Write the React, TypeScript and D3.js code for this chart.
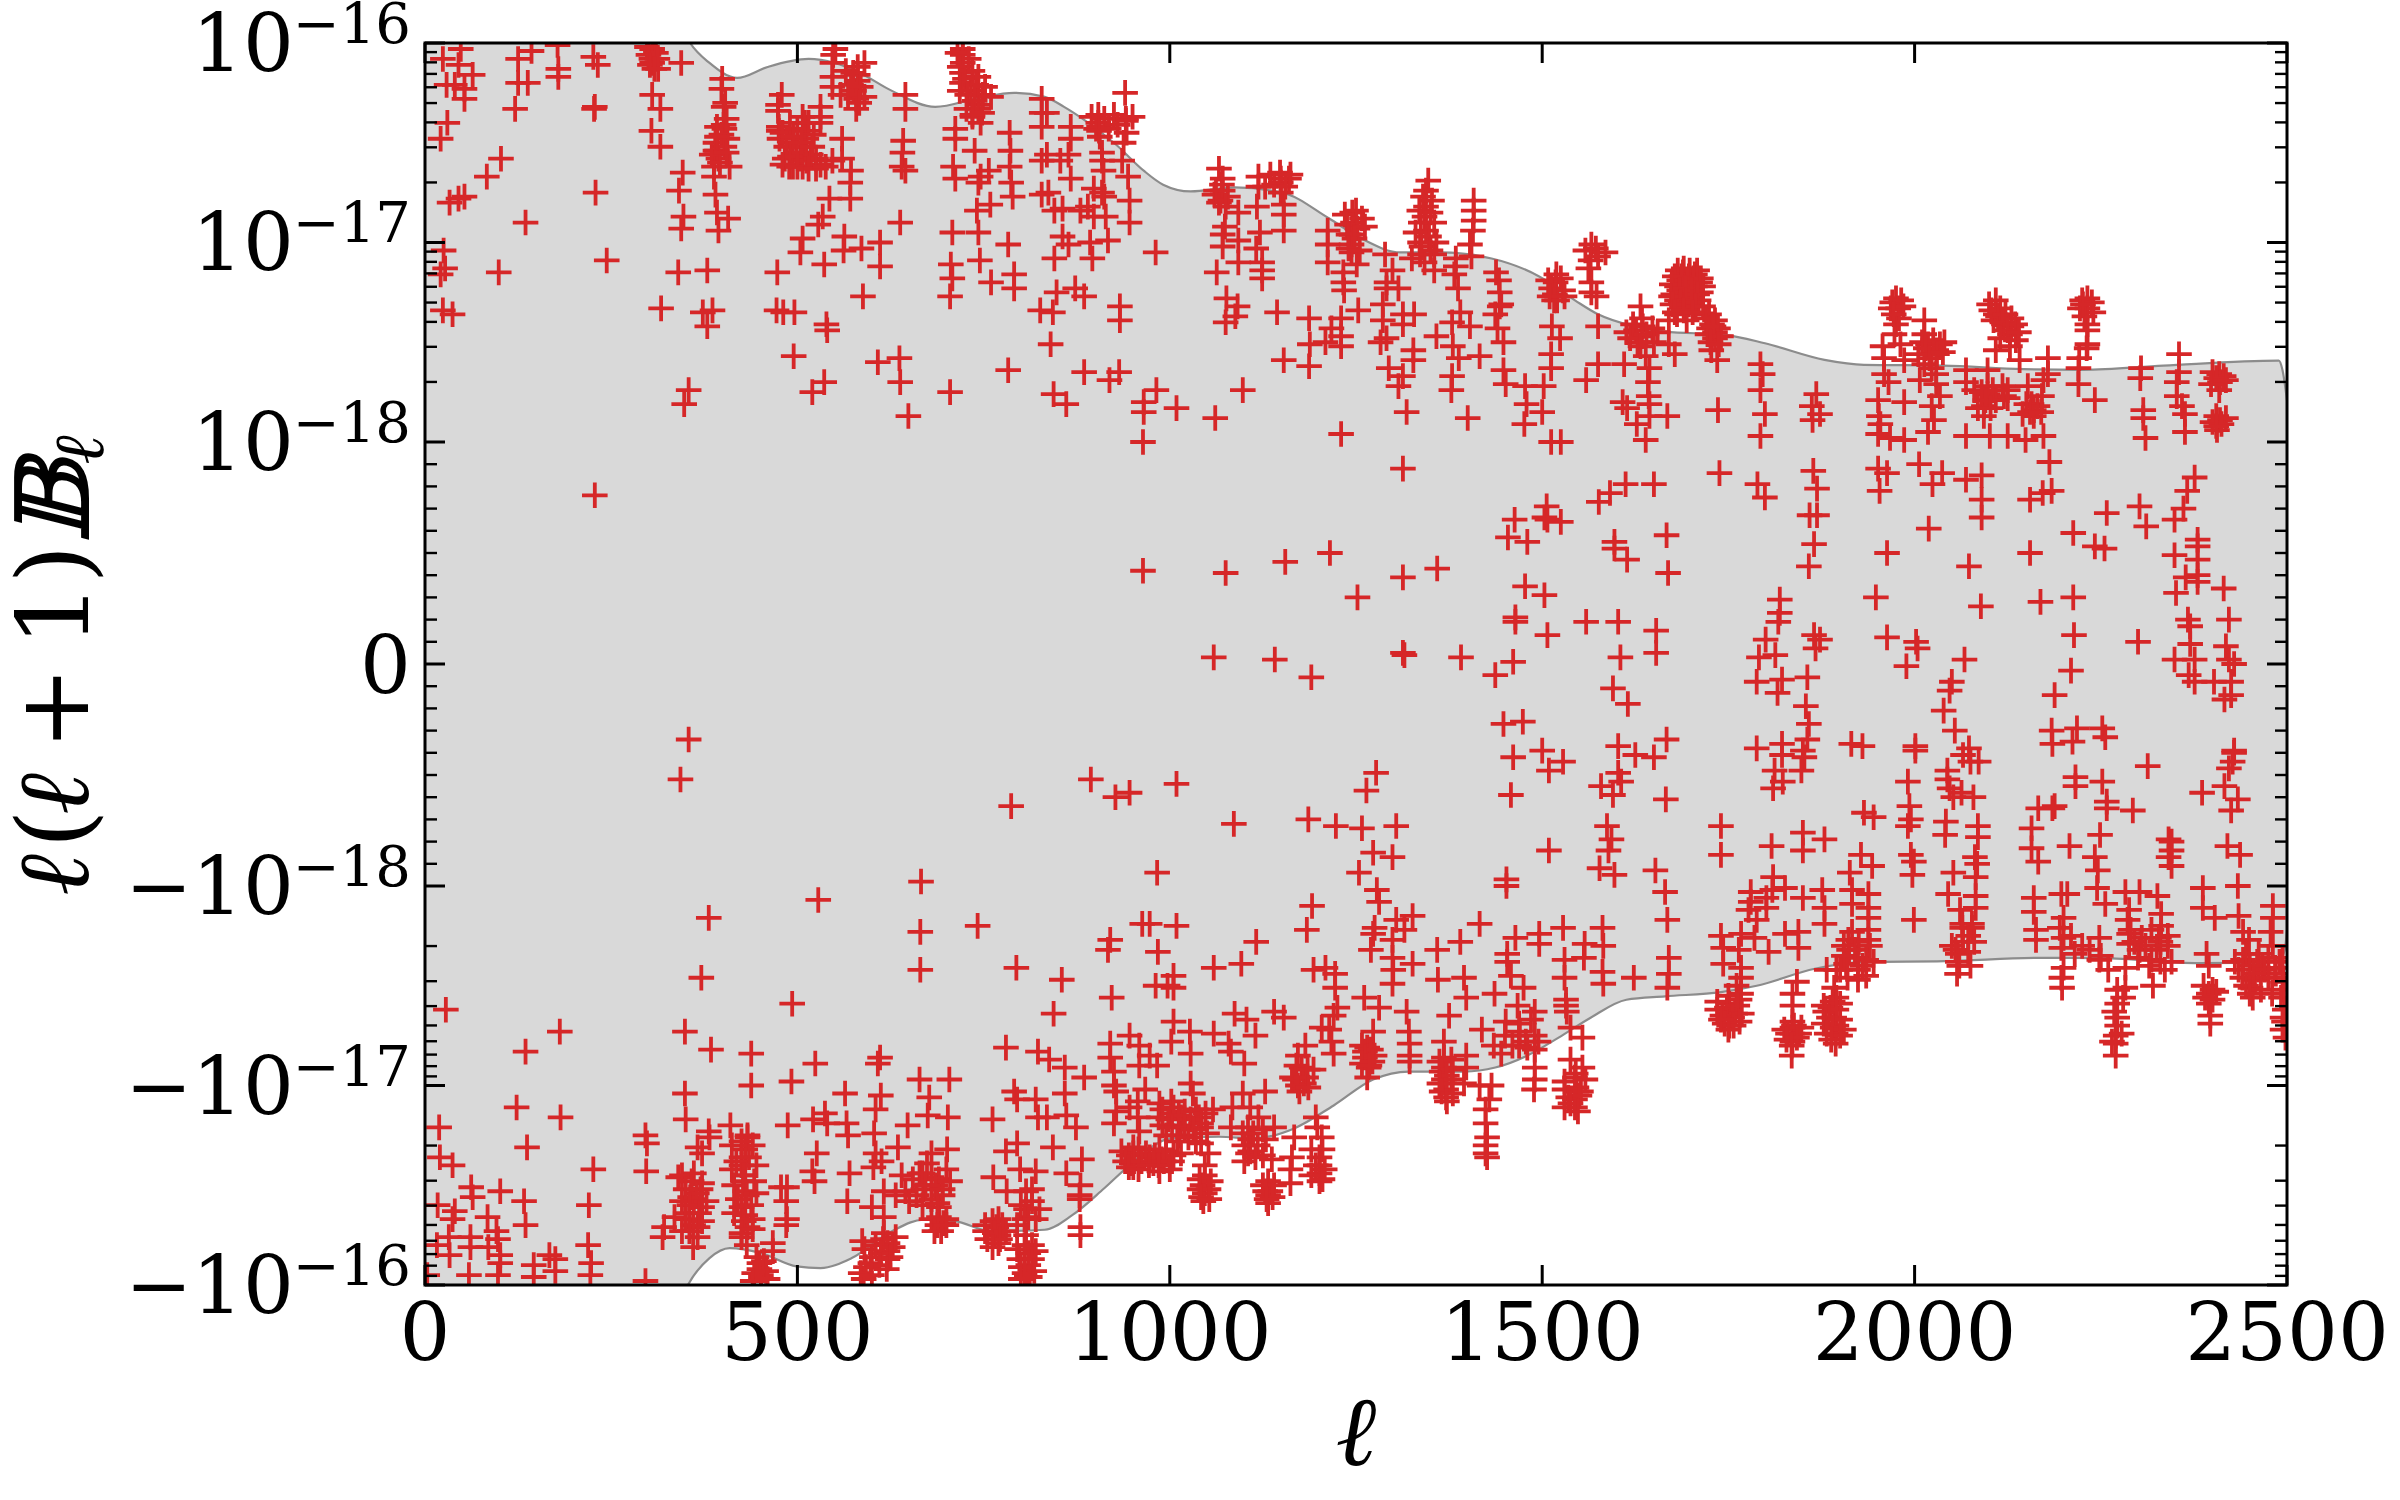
import { useEffect, useRef } from 'react';
import * as d3 from 'd3';

// points above the linear region: [ell, e] meaning +10^-e
const upperPoints = [
[24,16.08],[48,16.03],[45,16.11],[64,16.16],[29,16.21],[40,16.21],[53,16.28],[53,16.23],[30,16.40],[21,16.48],[102,16.58],[83,16.67],[53,16.77],[45,16.78],[33,16.80],[229,16.75],[135,16.90],[244,17.09],[99,17.15],[25,17.04],[27,17.13],[21,17.16],[24,17.34],[37,17.36],
[125,16.08],[143,16.04],[178,16.01],[179,16.13],[179,16.17],[125,16.20],[138,16.20],[121,16.33],[226,16.07],[232,16.11],[228,16.32],[227,16.33],[305,16.03],[304,16.08],[305,16.10],[313,16.13],[344,16.10],[305,16.26],[316,16.33],[304,16.44],[316,16.52],[346,16.65],[341,16.74],[347,16.87],[344,16.93],[340,17.15],[379,17.14],[317,17.33],[373,17.35],[386,17.34],[379,17.42],[354,17.74],[348,17.81],
[399,16.18],[398,16.23],[403,16.30],[401,16.32],[401,16.41],[402,16.43],[406,16.48],[392,16.54],[390,16.54],[394,16.58],[409,16.62],[388,16.62],[388,16.67],[390,16.76],[392,16.85],[407,16.88],[394,16.94],
[479,16.26],[474,16.31],[474,16.34],[475,16.42],[475,16.44],[476,16.48],[483,16.58],[489,16.62],[507,16.37],[510,16.40],[531,16.32],[531,16.37],[531,16.40],[512,16.44],[512,16.48],[510,16.52],[504,16.58],[507,16.62],[531,16.61],[560,16.48],[560,16.58],[572,16.64],[571,16.70],[543,16.78],[571,16.78],[534,16.87],[528,16.91],[507,16.98],[504,17.05],[536,17.11],[563,16.97],[562,17.04],[586,17.03],[611,17.00],[611,17.12],[473,17.15],[588,17.27],[472,17.34],[481,17.35],[496,17.35],[539,17.41],[540,17.44],[495,17.57],[608,17.60],[637,17.58],[638,17.70],[536,17.70],[520,17.75],[649,17.87],[705,17.75],
[494,16.50],[499,16.55],[518,16.56],[494,16.62],[547,16.59],
[551,16.03],[548,16.06],[547,16.10],[547,16.17],[547,16.22],[558,16.26],[581,16.12],[581,16.16],[581,16.19],[576,16.24],[579,16.28],[579,16.33],
[645,16.26],[645,16.33],[642,16.49],[641,16.55],[640,16.62],[645,16.64],[638,16.90],
[722,16.03],[722,16.06],[722,16.10],[721,16.15],[721,16.20],[733,16.24],[743,16.17],[749,16.26],[743,16.31],[743,16.33],[735,16.37],[746,16.40],[712,16.43],[712,16.48],[738,16.54],[709,16.62],[712,16.68],[746,16.67],[757,16.64],[743,16.70],[741,16.84],[759,16.81],[708,16.95],[743,16.95],[783,17.01],[706,17.11],[708,17.18],[745,17.09],[760,17.20],[791,17.16],[791,17.23],[705,17.27],[826,17.34],[783,17.64],
[785,16.45],[786,16.54],[785,16.62],[787,16.70],[789,16.77],[828,16.76],[828,16.28],[828,16.35],[828,16.42],[828,16.59],
[835,16.35],[867,16.42],[867,16.48],[835,16.56],[864,16.56],[853,16.59],[867,16.68],[898,16.73],[909,16.75],[912,16.77],[890,16.82],[837,16.75],[845,16.84],[856,16.83],[880,16.84],[898,16.87],[856,16.97],[864,17.01],[893,17.00],[896,17.08],[845,17.08],[914,16.87],[917,16.99],[946,16.79],[946,16.90],[848,17.25],[873,17.23],[885,17.27],[843,17.35],[840,17.51],[981,17.05],[933,17.32],[933,17.39],[885,17.65],[932,17.65],[919,17.69],[844,17.76],[861,17.81],[982,17.74],[965,17.80],[965,17.85],[1009,17.83],[1061,17.88],[1098,17.74],[964,18.00],[1230,17.96],
[904,16.36],[904,16.40],[901,16.43],[906,16.47],[940,16.25],[941,16.38],[941,16.39],[942,16.45],[938,16.50],[909,16.55],[909,16.59],[936,16.59],[911,16.64],[944,16.67],
[1066,16.63],[1071,16.68],[1071,16.74],[1066,16.80],[1068,16.79],[1092,16.85],[1074,16.92],[1071,16.96],[1071,17.02],[1092,16.99],[1119,16.67],[1119,16.72],[1117,16.82],[1149,16.68],[1149,16.70],[1149,16.75],[1153,16.81],[1153,16.86],[1153,16.94],[1121,16.95],[1116,17.03],[1124,17.10],[1124,17.14],[1124,17.18],[1092,17.10],[1063,17.15],[1076,17.28],[1091,17.32],[1088,17.37],[1075,17.40],[1144,17.35],[1187,17.38],[1153,17.59],[1187,17.62],
[1245,16.85],[1246,16.90],[1244,16.96],[1244,17.01],[1244,17.05],[1212,16.94],[1212,17.01],[1212,17.10],[1251,17.11],[1233,17.15],[1233,17.20],[1234,17.24],[1253,17.34],[1230,17.38],[1217,17.43],[1230,17.47],[1188,17.51],[1230,17.52],[1209,17.50],
[1289,17.06],[1299,17.14],[1291,17.20],[1291,17.23],[1307,17.23],[1286,17.31],[1286,17.39],[1313,17.36],[1328,17.36],[1313,17.41],[1283,17.50],[1291,17.48],[1327,17.54],[1327,17.59],[1294,17.63],[1313,17.67],[1307,17.72],[1318,17.85],[1400,17.88],
[1347,16.69],[1344,16.74],[1344,16.82],[1342,16.87],[1344,16.94],[1336,17.00],[1336,17.06],[1342,17.10],[1355,17.14],[1355,17.06],
[1384,17.08],[1384,17.12],[1382,17.16],[1387,17.23],[1390,17.35],[1379,17.40],[1403,17.42],[1358,17.47],[1380,17.52],[1388,17.58],[1416,17.57],[1379,17.67],[1378,17.74],
[1408,16.79],[1408,16.84],[1408,16.89],[1407,16.94],[1403,17.01],[1405,17.07],
[1438,17.15],[1442,17.19],[1443,17.25],[1445,17.31],[1443,17.32],[1437,17.36],[1440,17.43],[1448,17.50],[1448,17.64],[1451,17.71],[1477,17.72],[1502,17.72],[1479,17.81],[1500,17.85],[1476,17.91],
[1519,17.16],[1518,17.20],[1517,17.26],[1520,17.29],[1513,17.42],[1524,17.48],[1512,17.56],[1512,17.63],[1512,18.00],[1525,18.00],
[1608,17.80],[1614,17.83],[1627,17.91],[1639,17.99],[1644,17.81],[1644,17.87],
[1566,17.01],[1565,17.09],[1562,17.13],[1566,17.20],[1566,17.25],[1573,17.27],[1575,17.42],[1575,17.61],[1559,17.69],
[1632,17.32],[1634,17.38],[1626,17.44],[1613,17.45],[1634,17.47],[1628,17.50],[1639,17.57],[1610,17.61],[1644,17.63],[1642,17.70],[1643,17.77],
[1689,17.15],[1705,17.16],[1684,17.19],[1713,17.18],[1681,17.22],[1705,17.22],[1676,17.26],[1713,17.25],[1681,17.29],[1697,17.31],[1710,17.29],[1681,17.36],[1670,17.39],[1694,17.39],[1724,17.36],[1732,17.39],[1724,17.43],[1732,17.45],[1732,17.48],[1727,17.54],[1735,17.59],[1670,17.51],[1678,17.56],[1689,17.21],[1697,17.17],[1689,17.27],[1702,17.26],
[1793,17.61],[1796,17.66],[1793,17.74],[1799,17.86],[1793,17.97],[1736,17.84],[1668,17.87],[1868,17.76],[1862,17.82],[1873,17.86],[1863,17.89],
[1975,17.28],[1978,17.33],[1979,17.38],[1975,17.41],[2013,17.39],[2013,17.46],[1973,17.46],[1957,17.52],[1959,17.58],[1959,17.66],[1965,17.70],[1981,17.51],[1986,17.59],[2018,17.51],[2034,17.51],[2029,17.54],[2013,17.61],[2023,17.63],[2029,17.66],[2007,17.69],[2029,17.71],[2034,17.77],[1951,17.79],[1986,17.80],[1952,17.87],[1954,17.91],[2023,17.82],[2026,17.89],[2018,17.95],[1951,17.96],[1967,17.98],[1986,17.99],
[2069,17.64],[2069,17.70],[2098,17.64],[2109,17.29],[2109,17.36],[2106,17.39],[2130,17.42],[2128,17.46],[2128,17.52],[2141,17.59],[2098,17.76],[2120,17.77],[2093,17.82],[2093,17.87],[2152,17.72],[2125,17.78],[2160,17.84],[2160,17.87],[2179,17.58],[2179,17.66],[2173,17.69],[2171,17.77],[2220,17.63],[2220,17.71],[2242,17.79],[2069,17.97],[2101,17.97],[2125,17.97],[2149,17.99],[2173,17.97],[2120,17.41],[2136,17.49],[2109,17.54],[2098,17.72],[2109,17.79],[2157,17.81],
[2232,17.28],[2232,17.33],[2232,17.41],[2232,17.44],[2232,17.51],[2231,17.53],[2221,17.58],
[2304,17.63],[2303,17.68],[2307,17.84],[2307,17.88],[2310,17.98],[2355,17.56],[2355,17.65],[2352,17.70],[2352,17.77],[2359,17.82],[2363,17.86],[2363,17.95],[2409,17.66],[2410,17.70],[2409,17.74],[2410,17.89],[2406,17.94],
];

// extra upper points read from the solid clumps
const upperClumps = [
[715,16.05],[730,16.08],[718,16.12],[735,16.14],[725,16.18],[740,16.21],[728,16.26],[752,16.22],[738,16.29],[718,16.24],[748,16.35],[727,16.33],[760,16.27],[735,16.36],
[392,16.42],[405,16.38],[398,16.46],[390,16.50],[402,16.52],[385,16.56],[396,16.60],[405,16.55],[392,16.47],
[480,16.45],[490,16.40],[500,16.43],[515,16.40],[522,16.46],[485,16.52],[495,16.47],[505,16.50],[520,16.52],[490,16.57],[512,16.59],[525,16.58],[480,16.61],[500,16.62],[515,16.63],[525,16.63],[538,16.62],
[565,16.14],[575,16.15],[590,16.10],[572,16.21],[585,16.22],[590,16.27],[568,16.26],[583,16.30],
[298,16.02],[310,16.05],[300,16.06],[312,16.08],[302,16.11],[308,16.13],
[895,16.37],[912,16.38],[925,16.36],[905,16.42],[918,16.43],[930,16.41],[950,16.37],[905,16.44],
[1060,16.76],[1078,16.77],[1070,16.71],[1062,16.74],[1075,16.82],
[1135,16.66],[1148,16.65],[1160,16.68],[1140,16.71],[1155,16.72],[1128,16.72],[1162,16.66],
[1235,16.86],[1250,16.84],[1258,16.88],[1238,16.91],[1252,16.93],[1240,16.96],[1262,16.92],[1248,16.98],[1240,17.03],[1255,17.04],
[1340,16.77],[1352,16.79],[1335,16.84],[1350,16.85],[1337,16.90],[1355,16.90],[1330,16.95],[1348,16.97],[1338,17.02],[1358,17.00],[1325,17.08],[1350,17.04],
[1508,17.19],[1525,17.18],[1512,17.23],[1528,17.24],[1516,17.29],[1510,17.27],[1530,17.27],
[1558,17.04],[1572,17.03],[1585,17.05],[1575,17.07],
[1622,17.41],[1635,17.42],[1648,17.43],[1655,17.45],[1640,17.46],[1618,17.48],[1650,17.50],[1632,17.52],
[1682,17.14],[1690,17.13],[1698,17.14],[1708,17.14],[1678,17.17],[1687,17.17],[1695,17.19],[1703,17.18],[1712,17.20],[1716,17.22],[1674,17.21],[1684,17.24],[1692,17.23],[1700,17.24],[1708,17.26],[1673,17.27],[1686,17.30],[1693,17.29],[1701,17.30],[1706,17.32],[1675,17.31],[1716,17.32],[1678,17.35],[1690,17.34],[1702,17.35],
[1720,17.38],[1728,17.41],[1736,17.43],[1722,17.46],[1730,17.42],[1740,17.47],[1726,17.50],[1737,17.51],
[1970,17.30],[1982,17.29],[1968,17.33],[1985,17.32],[1972,17.36],
[2010,17.50],[2025,17.49],[2040,17.50],[2015,17.53],[2030,17.56],[2005,17.56],[2020,17.58],[2038,17.55],
[2100,17.31],[2115,17.33],[2103,17.34],[2112,17.37],[2122,17.36],[2130,17.38],[2118,17.40],[2135,17.41],[2125,17.44],[2140,17.45],[2115,17.48],
[2080,17.74],[2090,17.75],[2105,17.74],[2118,17.72],[2095,17.79],[2125,17.74],[2085,17.83],[2102,17.83],
[2150,17.81],[2165,17.82],[2155,17.85],[2145,17.86],[2170,17.85],
[2225,17.29],[2238,17.30],[2222,17.33],[2240,17.35],[2228,17.37],[2226,17.31],
[2400,17.65],[2415,17.67],[2405,17.68],[2418,17.69],[2398,17.71],
[2405,17.87],[2418,17.88],[2400,17.90],[2412,17.91],[2405,17.92],
];

// points below the linear region: [ell, e] meaning -10^-e
const lowerPoints = [
[528,17.93],[381,17.84],[665,17.77],[665,17.58],[742,17.80],[794,17.59],[371,17.54],[493,17.41],[28,17.38],[181,17.27],[135,17.17],[349,17.27],[384,17.18],[438,17.16],[524,17.11],[611,17.14],[608,17.11],[780,17.19],[823,17.17],[438,17.00],[492,17.02],[664,17.03],[704,17.03],[564,16.96],[612,16.95],[349,16.96],[791,16.97],[820,16.93],[605,16.88],[795,16.93],[123,16.89],[182,16.84],[19,16.79],[350,16.83],[537,16.86],[521,16.83],[566,16.81],[540,16.81],[568,16.75],[487,16.80],[762,16.83],[410,16.80],[381,16.77],[433,16.75],[296,16.75],[298,16.71],[603,16.76],[648,16.80],[675,16.85],[677,16.94],[702,16.84],[137,16.69],[20,16.64],[37,16.60],[635,16.69],[526,16.66],[605,16.66],[613,16.62],[701,16.68],[795,16.71],[780,16.67],[823,16.84],
[226,16.58],[297,16.57],[570,16.56],[602,16.59],[520,16.57],[523,16.52],[799,16.58],[820,16.57],[763,16.54],[62,16.49],[64,16.44],[101,16.47],[133,16.42],[17,16.40],[220,16.40],[40,16.37],[84,16.34],[135,16.30],[37,16.33],[567,16.42],[781,16.47],[815,16.48],[478,16.49],
[372,16.66],[366,16.69],[382,16.74],[340,16.54],[361,16.56],[372,16.51],[356,16.44],[361,16.43],[372,16.39],[350,16.36],[335,16.34],[366,16.29],[321,16.29],[319,16.24],[360,16.19],[366,16.24],
[433,16.74],[430,16.68],[425,16.64],[425,16.60],[430,16.55],[427,16.52],[430,16.47],[425,16.39],[430,16.35],[433,16.29],[425,16.24],[467,16.21],[467,16.17],[449,16.11],[449,16.08],[451,16.05],[451,16.03],
[486,16.49],[485,16.42],[486,16.33],[485,16.30],
[616,16.47],[632,16.45],[600,16.39],[616,16.34],[616,16.26],[587,16.22],[621,16.21],[621,16.17],[621,16.13],[592,16.09],[589,16.03],
[680,16.66],[674,16.61],[664,16.56],[680,16.54],[690,16.53],[669,16.48],[680,16.43],[690,16.39],[690,16.34],[696,16.31],[693,16.27],
[770,16.33],[767,16.29],[770,16.25],[770,16.21],[807,16.47],[807,16.38],[810,16.34],[807,16.25],[815,16.20],[810,16.16],[810,16.10],[808,16.04],
[32,16.24],[61,16.24],[16,16.20],[61,16.19],[96,16.27],[98,16.23],[85,16.19],[101,16.15],[33,16.15],[101,16.11],[98,16.05],[146,16.10],[146,16.04],[167,16.15],[175,16.13],[175,16.07],[219,16.20],[223,16.11],[222,16.05],[59,16.05],[296,16.02],[3,16.05],
[1452,18.00],[1278,17.98],[1281,17.92],[1191,17.90],[1184,17.78],[1416,17.81],[1275,17.79],[1273,17.76],[1270,17.68],[1304,17.83],[1326,17.85],[1315,17.78],[1299,17.73],[973,17.81],[1009,17.80],[963,17.81],[920,17.73],[917,17.68],[984,17.67],[1116,17.72],[1059,17.59],[1096,17.61],[855,17.53],[922,17.44],[844,17.36],
[1359,17.68],[1390,17.72],[1464,17.74],[1496,17.76],[1496,17.71],[1528,17.79],[1557,17.71],[1556,17.64],[1582,17.70],[1581,17.79],[1530,17.63],[1530,17.54],[1581,17.57],[1582,17.51],[1623,17.54],[1326,17.61],[1299,17.64],[1300,17.58],[1299,17.51],[1360,17.53],[1395,17.54],[1398,17.44],[1436,17.46],[1453,17.66],[1453,17.62],[1458,17.55],[1475,17.49],
[1005,17.55],[1005,17.49],[981,17.50],[997,17.50],[1193,17.58],[1222,17.56],[1222,17.49],[1209,17.59],[1261,17.44],[1281,17.39],[1318,17.37],[1375,17.35],[1532,17.43],[1532,17.40],[1533,17.37],[1467,17.40],[1490,17.37],[1485,17.33],[1451,17.32],[1225,17.39],[1220,17.35],[1204,17.29],
[1087,17.36],[1103,17.33],[1140,17.37],[1153,17.34],[1005,17.32],[1027,17.27],[1059,17.26],[946,17.25],[920,17.21],[959,17.20],[1002,17.22],[1028,17.16],[1079,17.21],[1082,17.17],[1100,17.11],[1115,17.25],
[838,17.13],[859,17.09],[885,17.04],[973,17.15],[983,17.10],[959,17.10],[920,17.14],[925,17.07],[925,17.00],[928,16.97],[859,16.96],
[1214,17.28],[1217,17.22],[1220,17.16],[1182,17.20],[1172,17.15],[1177,17.09],[1193,17.08],[1164,17.04],[1180,17.01],[1174,16.97],[1098,16.96],[1128,16.97],[1028,17.01],[1031,16.96],[967,16.98],
[1273,17.27],[1265,17.19],[1262,17.17],[1267,17.09],[1265,17.04],[1321,17.27],[1322,17.21],[1322,17.15],[1322,17.12],
[1368,17.22],[1398,17.15],[1368,17.14],[1368,17.09],[1398,17.09],[1368,17.03],[1395,17.01],[1371,16.98],[1371,16.94],[1419,17.28],[1435,17.20],
[1469,17.25],[1469,17.20],[1490,17.25],[1490,17.18],[1469,17.31],[1490,17.09],[1490,17.03],[1489,16.98],[1538,17.29],[1554,17.24],[1538,17.13],[1554,17.09],[1544,17.04],[1546,16.99],[1546,16.97],[1544,16.93],[1544,16.89],
[1432,17.00],[1416,17.00],[1429,16.93],[1424,16.88],[1424,16.81],[1426,16.74],[1424,16.70],[1424,16.66],[1426,16.64],
[1196,16.84],[1198,16.79],[1204,16.74],[1201,16.64],[1201,16.60],[1201,16.56],[1201,16.52],[1164,16.64],[1162,16.58],[1162,16.51],[1167,16.74],
[1084,16.89],[1108,16.89],[1082,16.79],[1119,16.84],[1140,16.79],[1105,16.79],[1108,16.73],[1108,16.67],[1105,16.66],[1129,16.73],[1137,16.63],[1132,16.52],[1135,16.47],[1132,16.45],[1132,16.41],
[1058,16.88],[946,16.89],[957,16.92],[986,16.91],[1002,16.92],[957,16.84],[959,16.77],[928,16.87],[925,16.81],[1002,16.86],[1015,16.84],[1039,16.84],[1015,16.80],[1042,16.79],[1013,16.75],[1042,16.71],[1052,16.66],[1047,16.60],[1047,16.55],[1044,16.50],[1047,16.46],[1045,16.42],[1015,16.66],[986,16.68],[951,16.66],[949,16.61],[973,16.64],[989,16.63],[951,16.69],[986,16.57],[951,16.59],
[882,16.63],[861,16.56],[880,16.50],[879,16.45],[879,16.43],[880,16.29],[880,16.25],[843,16.69],[874,16.79],[861,16.85],[835,16.84],
[1665,17.97],[1668,17.83],[1670,17.56],[1668,17.49],[1670,17.64],
[1999,17.83],[2045,17.96],[2082,17.95],[2082,17.89],[2061,17.88],[2077,17.81],[2064,17.81],[2064,17.79],[2077,17.79],[2072,17.75],[2058,17.66],[2058,17.62],[2057,17.56],
[1780,17.97],[1780,17.92],[1809,17.98],[1826,17.99],[1801,17.94],[1801,17.89],[1850,17.94],[1876,17.98],[1879,17.89],[1879,17.81],[1916,17.98],[1938,17.96],[1916,17.91],[1938,17.89],[1938,17.84],[1916,17.77],[1938,17.78],[1911,17.73],[1938,17.73],[1912,17.68],[1924,17.64],[1908,17.61],[1924,17.58],[1924,17.53],[1844,17.77],[1844,17.69],[1826,17.76],[1804,17.67],[1740,17.75],[1743,17.69],[1767,17.76],[1788,17.83],[1785,17.74],[1777,17.88],[1764,17.68],[1743,17.61],[1767,17.59],[1767,17.54],[1761,17.50],[1767,17.46],[1751,17.41],[1751,17.36],[1751,17.30],[1759,17.36],
[1842,17.52],[1836,17.46],[1836,17.40],[1836,17.32],[1836,17.29],[1836,17.26],[1836,17.22],[1835,17.15],[1882,17.58],[1895,17.58],[1892,17.49],[1895,17.44],[1887,17.39],[1892,17.34],[1895,17.30],[1894,17.26],[1894,17.21],
[2160,17.94],[2160,17.87],[2163,17.78],[2163,17.73],[2197,17.96],[2205,17.96],[2200,17.84],[2195,17.79],[2200,17.74],[2197,17.69],[2200,17.59],[2197,17.54],[2198,17.49],[2245,17.99],[2256,17.91],[2248,17.74],[2248,17.63],[2283,17.97],[2302,17.97],[2288,17.88],[2286,17.83],[2288,17.76],[2302,17.68],[2288,17.71],[2326,17.95],[2331,17.86],[2331,17.80],[2328,17.74],[2318,17.63],[2336,17.58],[2283,17.59],[2320,17.50],[2283,17.49],[2272,17.48],[2272,17.41],[2272,17.34],[2270,17.25],[2270,17.21],[2270,17.15],
[2387,17.99],[2387,17.89],[2403,17.84],[2392,17.66],[2395,17.60],[2395,17.41],[2397,17.35],[2397,17.31],[2434,18.00],[2435,17.85],[2481,17.90],[2481,17.84],[2478,17.77],[2441,17.77],[2449,17.73],[2481,17.70],[2441,17.63],[2462,17.66],[2462,17.58],[2484,17.59],[2454,17.44],[2494,17.54],[2492,17.44],[2494,17.34],[2494,17.28],[2451,17.49],[2494,17.64],[2457,17.53],[2467,17.59],
];

// extra lower points read from the solid clumps
const lowerClumps = [
[345,16.55],[358,16.52],[370,16.48],[350,16.48],[365,16.46],[345,16.42],[355,16.40],[378,16.42],[350,16.33],[360,16.30],[345,16.27],[372,16.32],[355,16.27],[368,16.36],
[412,16.70],[425,16.72],[440,16.70],[418,16.62],[435,16.64],[445,16.60],[412,16.58],[428,16.55],[442,16.52],[415,16.50],[432,16.45],[445,16.46],[420,16.43],[438,16.40],[415,16.36],[428,16.32],[440,16.33],[425,16.26],[440,16.28],[432,16.20],[445,16.14],[455,16.12],[442,16.06],[458,16.07],[440,16.02],[460,16.03],
[590,16.18],[605,16.20],[615,16.23],[628,16.19],[600,16.14],[612,16.16],[625,16.14],[598,16.11],[610,16.10],[620,16.08],[585,16.06],[600,16.05],[632,16.24],
[640,16.55],[655,16.53],[668,16.56],[685,16.50],[695,16.48],[645,16.47],[660,16.45],[672,16.50],[695,16.45],[650,16.42],[668,16.40],[688,16.41],[700,16.58],[705,16.52],
[680,16.33],[688,16.30],[700,16.33],[684,16.27],[700,16.30],
[752,16.30],[762,16.32],[775,16.30],[752,16.27],[765,16.26],[780,16.27],[755,16.23],[772,16.23],[762,16.19],
[795,16.18],[805,16.20],[820,16.17],[798,16.13],[815,16.13],[800,16.09],[818,16.07],[805,16.06],[812,16.04],[800,16.03],
[800,16.40],[815,16.42],[825,16.38],[805,16.33],[820,16.33],[795,16.30],
[935,16.67],[945,16.65],[958,16.68],[968,16.66],[980,16.65],[995,16.67],[1005,16.65],[940,16.62],[952,16.62],[962,16.62],[978,16.61],[992,16.62],[1003,16.62],[945,16.59],[958,16.58],[972,16.60],[985,16.60],[1000,16.58],
[990,16.88],[1005,16.89],[1020,16.87],[1035,16.88],[1048,16.86],[985,16.84],[998,16.83],[1012,16.85],[1028,16.83],[1042,16.81],[990,16.80],[1003,16.79],[1020,16.79],[1032,16.78],[1050,16.76],[995,16.75],[1010,16.72],[1025,16.74],[1035,16.72],
[1098,16.76],[1112,16.76],[1125,16.78],[1100,16.70],[1118,16.70],[1125,16.65],[1100,16.62],[1115,16.64],
[1125,16.50],[1140,16.50],[1128,16.47],[1138,16.44],[1130,16.43],
[1040,16.53],[1055,16.52],[1040,16.48],[1052,16.48],[1042,16.44],[1053,16.43],
[1190,16.68],[1205,16.68],[1196,16.60],[1208,16.58],[1190,16.55],[1205,16.53],
[1258,17.20],[1270,17.18],[1262,17.14],[1275,17.15],[1258,17.11],[1272,17.12],[1268,17.10],
[1170,17.10],[1185,17.08],[1168,17.03],[1183,17.04],[1172,17.00],[1186,16.99],
[1362,17.12],[1378,17.13],[1365,17.07],[1380,17.08],[1372,17.05],[1362,17.01],[1378,17.03],[1365,16.97],[1380,16.96],[1372,16.92],
[1530,17.02],[1545,17.06],[1558,17.03],[1530,16.98],[1552,16.97],[1535,16.94],[1550,16.95],[1538,16.91],[1530,16.89],[1548,16.87],
[1445,17.16],[1460,17.20],[1478,17.22],[1450,17.25],[1470,17.27],[1480,17.19],[1495,17.22],
[1735,17.42],[1750,17.45],[1765,17.43],[1735,17.38],[1748,17.39],[1762,17.40],[1742,17.35],[1755,17.34],[1768,17.36],[1745,17.31],[1757,17.30],[1765,17.32],[1750,17.28],[1740,17.33],
[1825,17.28],[1838,17.30],[1848,17.29],[1830,17.26],[1845,17.26],[1828,17.23],[1842,17.24],[1835,17.20],
[1878,17.40],[1890,17.42],[1900,17.41],[1880,17.37],[1895,17.38],[1885,17.34],[1900,17.33],[1878,17.31],[1890,17.29],[1905,17.28],[1882,17.26],[1900,17.25],[1888,17.23],
[1905,17.70],[1925,17.72],[1940,17.70],[1905,17.65],[1920,17.68],[1935,17.63],[1900,17.58],[1930,17.60],[1945,17.62],[1910,17.54],[1935,17.55],
[2050,17.70],[2065,17.72],[2080,17.72],[2055,17.68],[2072,17.67],[2060,17.60],[2075,17.60],
[2290,17.78],[2305,17.74],[2318,17.78],[2330,17.72],[2340,17.75],[2295,17.72],[2310,17.70],[2325,17.68],[2340,17.70],[2300,17.64],[2315,17.60],[2330,17.62],[2345,17.62],
[2272,17.30],[2265,17.22],[2278,17.26],[2268,17.37],[2280,17.44],
[2388,17.50],[2400,17.48],[2395,17.46],[2405,17.47],[2390,17.44],[2400,17.43],
[2430,17.62],[2445,17.66],[2460,17.62],[2475,17.64],[2490,17.62],[2435,17.58],[2450,17.60],[2470,17.58],[2485,17.56],[2440,17.54],[2455,17.56],[2475,17.54],[2495,17.52],[2445,17.50],[2465,17.48],[2480,17.46],[2496,17.48],[2450,17.46],[2497,17.38],[2496,17.32],[2498,17.24],
[2215,17.66],[2235,17.68],[2250,17.65],[2260,17.58],[2210,17.75],[2225,17.70],
];

// points inside the linear region: [ell, value in units of 1e-18]
const linearPoints = [
[228,0.76],[354,-0.34],[343,-0.52],[964,0.42],[1075,0.41],[1155,0.46],[1215,0.50],[1252,0.30],[1059,0.03],[1141,0.02],[1190,-0.06],[1277,-0.49],[1264,-0.57],[894,-0.52],[946,-0.58],[927,-0.60],[1009,-0.54],[787,-0.64],[1086,-0.72],[1186,-0.70],[1223,-0.73],[1258,-0.74],[1304,-0.73],[1273,-0.85],[1299,-0.87],[1254,-0.94],[666,-0.98],[983,-0.94],
[1313,0.88],[1313,0.39],[1359,0.43],[1463,0.65],[1454,0.57],[1480,0.55],[1506,0.71],[1503,0.66],[1507,0.65],[1525,0.64],[1576,0.73],[1591,0.77],[1612,0.81],[1650,0.81],[1477,0.35],[1503,0.31],[1464,0.21],[1464,0.19],[1507,0.13],[1559,0.19],[1602,0.19],[1653,0.15],[1653,0.05],[1667,0.58],[1597,0.55],[1597,0.52],[1614,0.47],[1669,0.41],[1313,0.05],[1315,0.04],[1391,0.03],[1461,0.01],[1437,-0.05],[1605,0.03],[1595,-0.11],[1615,-0.18],[1448,-0.27],[1474,-0.26],[1461,-0.42],[1500,-0.39],[1509,-0.48],[1528,-0.44],[1602,-0.37],[1625,-0.41],[1650,-0.42],[1667,-0.34],[1602,-0.49],[1606,-0.53],[1579,-0.55],[1595,-0.59],[1458,-0.59],[1666,-0.61],[1587,-0.73],[1593,-0.79],[1589,-0.84],[1509,-0.84],[1577,-0.92],[1597,-0.95],[1652,-0.93],[1452,-0.97],
[1738,0.86],[1789,0.81],[1799,0.75],[1864,0.87],[1869,0.79],[1859,0.67],[1869,0.67],[1865,0.54],[1858,0.44],[1963,0.86],[1951,0.88],[1953,0.78],[1963,0.50],[2006,0.90],[2037,0.86],[2024,0.81],[2069,0.83],[2090,0.85],[2090,0.74],[2090,0.66],[2019,0.61],[2073,0.44],[2155,0.50],[2155,0.74],[2172,0.77],[2184,0.78],[2181,0.91],[2258,0.68],[2302,0.71],[2213,0.59],[2242,0.53],[2255,0.52],[2311,0.62],[2366,0.78],[2376,0.84],[2361,0.70],[2349,0.65],[2349,0.49],[2380,0.56],[2380,0.53],[2380,0.47],[2364,0.39],[2380,0.40],[2380,0.37],[2351,0.32],[2415,0.34],[2213,0.30],[2169,0.28],[2089,0.26],[1948,0.30],[1819,0.29],[1819,0.23],[1817,0.19],[1865,0.13],[1873,0.11],[1800,0.11],[1791,0.03],[1813,0.04],[1867,0.07],[1963,0.12],[2002,0.10],[2004,0.07],[1989,-0.01],[2067,0.02],[2210,-0.03],[2214,0.13],[2300,0.10],[2367,0.20],[2370,0.17],[2422,0.20],[2370,0.09],[2418,0.08],[2349,0.02],[2368,-0.05],[2376,0.02],[2422,0.02],[2429,0.0],[2376,-0.08],[2402,-0.08],[2425,-0.08],[2416,-0.16],[2425,-0.14],
[1788,-0.08],[1822,-0.07],[1856,-0.06],[1816,-0.13],[1854,-0.19],[1858,-0.27],[1856,-0.34],[1788,-0.38],[1822,-0.36],[1822,-0.41],[1850,-0.39],[1852,-0.42],[1812,-0.48],[1848,-0.48],[1823,-0.53],[1810,-0.56],
[2050,-0.08],[2047,-0.12],[2039,-0.21],[2054,-0.30],[1915,-0.36],[1930,-0.37],[2001,-0.37],[2001,-0.39],[2073,-0.38],[2065,-0.41],[2075,-0.44],[2086,-0.44],[2044,-0.48],[2044,-0.52],[2047,-0.56],[2063,-0.58],[2052,-0.60],[2079,-0.60],[1991,-0.53],
[2188,-0.14],[2184,-0.30],[2218,-0.29],[2252,-0.29],[2256,-0.33],[2185,-0.36],[2212,-0.35],[2313,-0.46],[2216,-0.51],[2216,-0.55],[2252,-0.53],[2386,-0.58],[2416,-0.55],[2429,-0.39],[2429,-0.40],[2427,-0.44],[2422,-0.47],[2434,-0.61],[2425,-0.66],[2258,-0.62],[2258,-0.65],[2293,-0.66],[2166,-0.65],[2188,-0.64],[2185,-0.65],
[1932,-0.67],[1945,-0.69],[1993,-0.64],[1995,-0.70],[1991,-0.73],[2042,-0.71],[2041,-0.77],[2085,-0.73],[2085,-0.78],[1850,-0.76],[1879,-0.79],[1740,-0.73],[1808,-0.82],[1740,-0.86],[1850,-0.84],[1928,-0.86],[1943,-0.91],[1995,-0.86],[1999,-0.89],[1997,-0.95],[2052,-0.94],[2081,-0.87],[2084,-0.90],[2082,-0.96],[2157,-0.74],[2157,-0.83],[2166,-0.89],[2208,-0.82],[2249,-0.77],[2242,-0.87],[2246,-0.93],[2341,-0.79],[2345,-0.80],[2345,-0.84],[2341,-0.87],[2345,-0.91],[2420,-0.82],[2437,-0.86],[1810,-0.96],[1913,-0.94],
];

// edges of the grey band: [ell, e] meaning +/-10^-e
const upperEdge = [
[0,15],[250,15.4],[330,15.8],[356,16],[382,16.1],[419,16.175],[460,16.12],[515,16.08],[550,16.1],[584,16.15],[627,16.24],[685,16.32],[743,16.276],[791,16.25],[832,16.27],[858,16.32],[885,16.385],[928,16.51],[965,16.64],[991,16.71],[1028,16.744],[1087,16.724],[1151,16.75],[1214,16.88],[1257,16.98],[1310,17.05],[1363,17.05],[1432,17.08],[1496,17.17],[1544,17.29],[1575,17.36],[1623,17.42],[1665,17.447],[1745,17.463],[1799,17.505],[1879,17.588],[1932,17.613],[2039,17.617],[2146,17.635],[2227,17.638],[2334,17.617],[2489,17.592],[2494,17.64],[2500,17.79],
];
const lowerEdge = [
[0,15],[250,15.4],[330,15.8],[353,16],[382,16.135],[409,16.185],[451,16.16],[499,16.093],[531,16.085],[573,16.135],[627,16.27],[669,16.327],[711,16.32],[759,16.27],[832,16.277],[869,16.35],[912,16.485],[949,16.61],[1002,16.735],[1066,16.743],[1113,16.735],[1167,16.785],[1220,16.9],[1273,17.03],[1321,17.07],[1395,17.07],[1437,17.09],[1480,17.15],[1522,17.24],[1565,17.34],[1613,17.43],[1665,17.447],[1740,17.468],[1788,17.5],[1866,17.585],[1932,17.618],[2040,17.623],[2173,17.64],[2253,17.638],[2382,17.613],[2489,17.618],[2497,17.68],[2500,17.78],
];

const xTicks = [0, 500, 1000, 1500, 2000, 2500];
const yDecades = [16, 17, 18];
const logMinor = [2, 3, 4, 5, 6, 7, 8, 9];
const linMinor = [1, 2, 3, 4, 5, 6, 7, 8, 9];

const LINTHRESH = 1e-18;
const LINSCALE = 1.1128;
// matplotlib style symlog: linear inside the threshold, log10 outside
const symlog = (v: number) => {
  const a = Math.abs(v);
  const t = a <= LINTHRESH ? (a / LINTHRESH) * LINSCALE : LINSCALE + Math.log10(a / LINTHRESH);
  return v < 0 ? -t : t;
};

const plot = { left: 425, right: 2287, top: 43, bottom: 1285 };
const serif = '"DejaVu Serif", serif';

function App() {
  const svgRef = useRef<SVGSVGElement>(null);

  useEffect(() => {
    const svg = d3.select(svgRef.current);
    svg.selectAll('*').remove();

    const x = d3.scaleLinear().domain([0, 2500]).range([plot.left, plot.right]);
    const yT = d3.scaleLinear().domain([symlog(-1e-16), symlog(1e-16)]).range([plot.bottom, plot.top]);
    const y = (v: number) => yT(symlog(v));

    svg.append('clipPath').attr('id', 'plot-clip').append('rect')
      .attr('x', plot.left).attr('y', plot.top)
      .attr('width', plot.right - plot.left).attr('height', plot.bottom - plot.top);

    const g = svg.append('g').attr('clip-path', 'url(#plot-clip)');

    // grey band
    const upV = (d: number[]) => y(Math.pow(10, -d[1]));
    const loV = (d: number[]) => y(-Math.pow(10, -d[1]));
    const bandUp = d3.area<number[]>().x(d => x(d[0])).y0(y(0)).y1(upV).curve(d3.curveMonotoneX);
    const bandLo = d3.area<number[]>().x(d => x(d[0])).y0(y(0)).y1(loV).curve(d3.curveMonotoneX);
    g.append('path').attr('d', bandUp(upperEdge)).attr('fill', '#d9d9d9');
    g.append('path').attr('d', bandLo(lowerEdge)).attr('fill', '#d9d9d9');
    const edgeUp = d3.line<number[]>().x(d => x(d[0])).y(upV).curve(d3.curveMonotoneX);
    const edgeLo = d3.line<number[]>().x(d => x(d[0])).y(loV).curve(d3.curveMonotoneX);
    g.append('path').attr('d', edgeUp(upperEdge)).attr('fill', 'none').attr('stroke', '#8c8c8c').attr('stroke-width', 2.2);
    g.append('path').attr('d', edgeLo(lowerEdge)).attr('fill', 'none').attr('stroke', '#8c8c8c').attr('stroke-width', 2.2);

    // plus markers
    const points = [
      ...upperPoints.map(d => [d[0], Math.pow(10, -d[1])]),
      ...upperClumps.map(d => [d[0], Math.pow(10, -d[1])]),
      ...lowerPoints.map(d => [d[0], -Math.pow(10, -d[1])]),
      ...lowerClumps.map(d => [d[0], -Math.pow(10, -d[1])]),
      ...linearPoints.map(d => [d[0], d[1] * LINTHRESH]),
    ];
    const arm = 12.8;
    g.selectAll('path.mark').data(points).join('path')
      .attr('class', 'mark')
      .attr('d', d => {
        const px = x(d[0]);
        const py = y(d[1]);
        return `M${px - arm},${py}H${px + arm}M${px},${py - arm}V${py + arm}`;
      })
      .attr('fill', 'none').attr('stroke', '#d62728').attr('stroke-width', 3.8);

    // ticks, pointing inward on all four sides
    const ticks = svg.append('g').attr('stroke', '#000');
    xTicks.forEach(t => {
      ticks.append('line').attr('x1', x(t)).attr('x2', x(t)).attr('y1', plot.bottom).attr('y2', plot.bottom - 20).attr('stroke-width', 3);
      ticks.append('line').attr('x1', x(t)).attr('x2', x(t)).attr('y1', plot.top).attr('y2', plot.top + 20).attr('stroke-width', 3);
    });
    const yTick = (v: number, len: number, w: number) => {
      ticks.append('line').attr('x1', plot.left).attr('x2', plot.left + len).attr('y1', y(v)).attr('y2', y(v)).attr('stroke-width', w);
      ticks.append('line').attr('x1', plot.right).attr('x2', plot.right - len).attr('y1', y(v)).attr('y2', y(v)).attr('stroke-width', w);
    };
    yTick(0, 20, 3);
    yDecades.forEach(e => {
      const major = Math.pow(10, -e);
      yTick(major, 20, 3);
      yTick(-major, 20, 3);
      if (e < 18) {
        logMinor.forEach(m => {
          yTick(m * Math.pow(10, -(e + 1)), 12, 2.4);
          yTick(-m * Math.pow(10, -(e + 1)), 12, 2.4);
        });
      }
    });
    linMinor.forEach(m => {
      yTick(m * 1e-19, 12, 2.4);
      yTick(-m * 1e-19, 12, 2.4);
    });

    svg.append('rect')
      .attr('x', plot.left).attr('y', plot.top)
      .attr('width', plot.right - plot.left).attr('height', plot.bottom - plot.top)
      .attr('fill', 'none').attr('stroke', '#000').attr('stroke-width', 3);

    // tick labels
    const labels = svg.append('g').attr('font-family', serif).attr('fill', '#000');
    xTicks.forEach(t => {
      labels.append('text').attr('x', x(t)).attr('y', 1360).attr('text-anchor', 'middle').attr('font-size', 80).text(t);
    });
    const yLabel = (v: number, sign: string, e: number) => {
      const txt = labels.append('text').attr('x', 411).attr('y', y(v) + 28).attr('text-anchor', 'end').attr('font-size', 80);
      txt.append('tspan').text(`${sign}10`);
      txt.append('tspan').attr('dx', -1).attr('dy', -28).attr('font-size', 56).text(`\u2212${e}`);
    };
    yDecades.forEach(e => {
      yLabel(Math.pow(10, -e), '', e);
      yLabel(-Math.pow(10, -e), '\u2212', e);
    });
    labels.append('text').attr('x', 411).attr('y', y(0) + 29).attr('text-anchor', 'end').attr('font-size', 80).text('0');

    // axis labels
    labels.append('text').attr('x', 1356).attr('y', 1465).attr('text-anchor', 'middle')
      .attr('font-size', 98).attr('font-style', 'italic').text('\u2113');
    const yl = labels.append('text').attr('transform', 'translate(88,663) rotate(-90)')
      .attr('text-anchor', 'middle').attr('font-size', 100);
    yl.append('tspan').attr('x', -212).attr('font-style', 'italic').text('\u2113');
    yl.append('tspan').attr('x', -166).text('(');
    yl.append('tspan').attr('x', -131).attr('font-style', 'italic').text('\u2113');
    yl.append('tspan').attr('x', -45).text('+');
    yl.append('tspan').attr('x', 48).text('1');
    yl.append('tspan').attr('x', 99).text(')');
    yl.append('tspan').attr('x', 162).attr('font-style', 'italic').attr('stroke', '#000').attr('stroke-width', 2).text('\u{1D539}');
    yl.append('tspan').attr('x', 213).attr('dy', 15).attr('font-style', 'italic').attr('font-size', 70).text('\u2113');
  }, []);

  return (
    <svg
      ref={svgRef}
      width={2400}
      height={1500}
      style={{ position: 'absolute', left: 0, top: 0, display: 'block', background: '#fff' }}
    />
  );
}

export default App;
